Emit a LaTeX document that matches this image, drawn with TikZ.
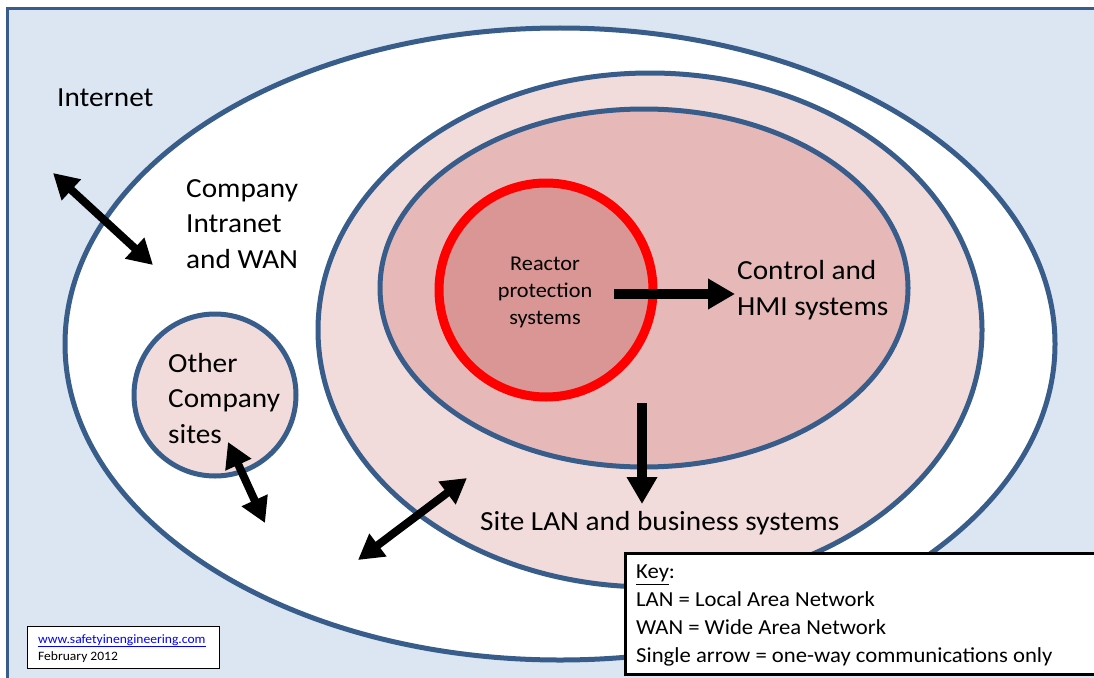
\documentclass[tikz,border=0pt]{standalone}
\usepackage{fontspec}
\setmainfont{Carlito}[FakeStretch=1.06]
\usetikzlibrary{arrows.meta,shapes.geometric}
\definecolor{bgblue}{HTML}{DCE6F2}
\definecolor{edgeblue}{HTML}{385D8A}
\definecolor{pinkA}{HTML}{F2DCDB}
\definecolor{pinkB}{HTML}{E6B9B8}
\definecolor{pinkC}{HTML}{D99694}
\definecolor{urlblue}{HTML}{0000FF}
\begin{document}
\begin{tikzpicture}[x=1pt,y=-1pt,
  zone/.style={draw=edgeblue,line width=5pt,inner sep=0pt},
  bigtxt/.style={font=\fontsize{27.6}{35.5}\selectfont,align=left,anchor=base west,inner sep=0pt},
  blockarrow/.style={line width=9.5pt,-{Triangle[length=27pt,width=29pt]}},
  dblarrow/.style={line width=8pt,{Triangle[length=25pt,width=27pt]}-{Triangle[length=25pt,width=27pt]}}
]
\useasboundingbox (0,0) rectangle (1094,677);
\clip (0,0) rectangle (1094,677);
\fill[white] (0,0) rectangle (1094,677);
\draw[fill=bgblue,draw=edgeblue,line width=3pt] (7,9) rectangle (1120,700);

% zones
\node[zone,ellipse,fill=white,minimum width=990pt,minimum height=632pt] (intranet) at (560,344) {};
\node[zone,circle,fill=pinkA,minimum size=162pt] (other) at (215,395) {};
\node[zone,ellipse,fill=pinkA,minimum width=664pt,minimum height=514pt] (site) at (650,330) {};
\node[zone,ellipse,fill=pinkB,minimum width=528pt,minimum height=358pt] (control) at (644,288) {};
\node[circle,draw=red,line width=9pt,fill=pinkC,inner sep=0pt,minimum size=214pt] (reactor) at (546,290) {};

% labels (multi-line nodes: base anchor = baseline of last line)
\node[bigtxt] (internetlbl) at (57,106) {Internet};
\node[bigtxt] (intranetlbl) at (186,268) {Company\\Intranet\\and WAN};
\node[bigtxt] (otherlbl) at (168,443) {Other\\Company\\sites};
\node[font=\fontsize{21}{27}\selectfont,align=center,anchor=base,inner sep=0pt] (reactorlbl) at (545,324) {Reactor\\protection\\systems};
\node[bigtxt] (controllbl) at (737,315) {Control and\\HMI systems};
\node[bigtxt] (sitelbl) at (480,530) {Site LAN and business systems};

% arrows
\coordinate (a1s) at (53,173);  \coordinate (a1e) at (153,265);
\coordinate (a2s) at (228,442); \coordinate (a2e) at (265,523);
\coordinate (a3s) at (358,560); \coordinate (a3e) at (467,478);
\coordinate (a4s) at (614,294); \coordinate (a4e) at (735,294);
\coordinate (a5s) at (642,403); \coordinate (a5e) at (642,504);
\draw[dblarrow] (a1s) -- (a1e);
\draw[dblarrow] (a2s) -- (a2e);
\draw[dblarrow] (a3s) -- (a3e);
\draw[blockarrow] (a4s) -- (a4e);
\draw[blockarrow] (a5s) -- (a5e);

% key
\node[draw=black,line width=3pt,fill=white,inner sep=0pt,minimum width=472pt,minimum height=121pt,anchor=north west] (keybox) at (624,552) {};
\node[font=\fontsize{21.4}{27.7}\selectfont,align=left,anchor=base west,inner sep=0pt] (keytxt) at (636,662)
  {\underline{Key}:\\LAN = Local Area Network\\WAN = Wide Area Network\\Single arrow = one-way communications only};

% credit
\node[draw=black,line width=1pt,fill=white,inner sep=0pt,minimum width=192pt,minimum height=42pt,anchor=north west] (creditbox) at (27,626) {};
\node[font=\fontsize{12.8}{17}\selectfont,align=left,anchor=base west,inner sep=0pt] (credittxt) at (38,660)
  {\textcolor{urlblue}{\underline{www.safetyinengineering.com}}\\February 2012};
\end{tikzpicture}
\end{document}
